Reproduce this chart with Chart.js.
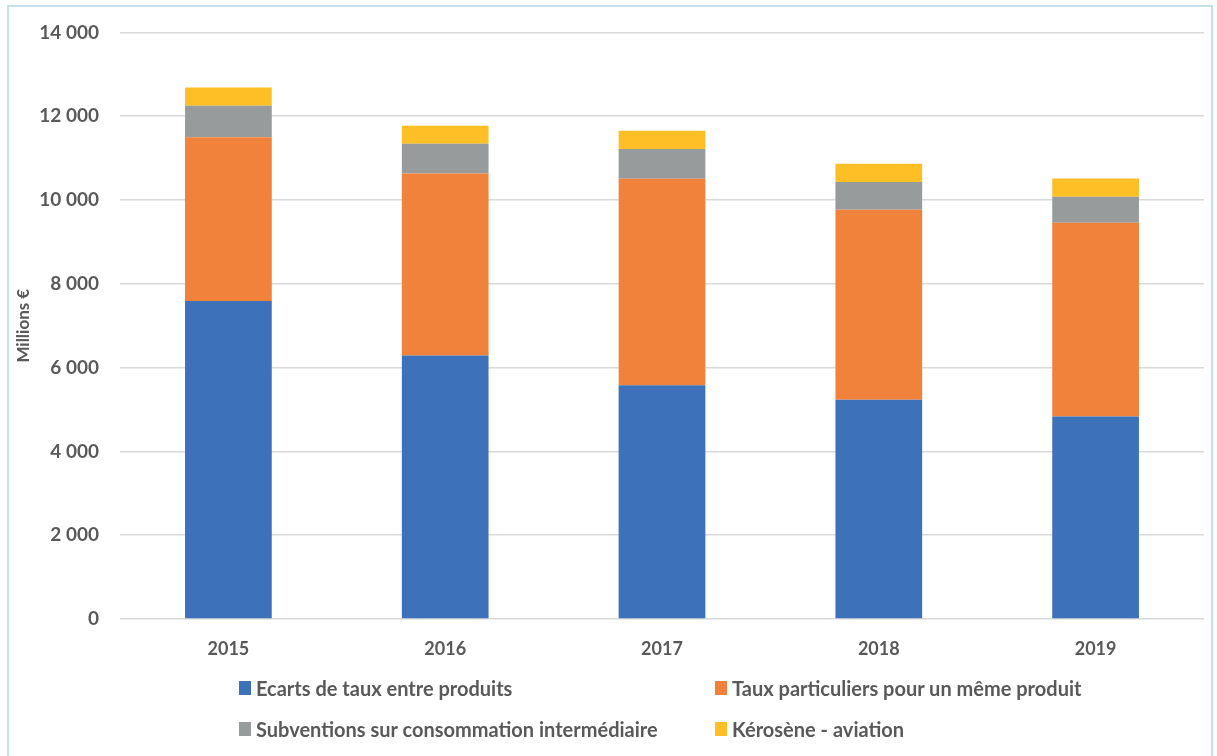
<!DOCTYPE html>
<html lang="fr">
<head>
<meta charset="utf-8">
<title>Dépenses fiscales énergie</title>
<script src="https://cdn.jsdelivr.net/npm/chart.js@4.4.1/dist/chart.umd.min.js"></script>
<style>
  html, body { margin: 0; padding: 0; background: #fff; }
  body { width: 1217px; height: 756px; position: relative; overflow: hidden; font-family: Lato, "Open Sans", sans-serif; }
  #frame { position: absolute; left: 7px; top: 5px; width: 1206px; height: 800px; border: 2px solid #c3e2eb; box-sizing: border-box; }
  #wrap { position: absolute; left: 0; top: 0; width: 1217px; height: 756px; }
  #legend { position: absolute; left: 239px; top: 676px; display: grid; grid-template-columns: 476px auto; row-gap: 17px; }
  .item { display: flex; align-items: center; font-weight: bold; font-size: 20px; color: #595959; height: 24px; white-space: nowrap; }
  .box { width: 12px; height: 14px; margin-right: 5px; }
</style>
</head>
<body>
<div id="frame"></div>
<div id="wrap"><canvas id="chart" width="1217" height="756"></canvas></div>
<div id="legend"></div>
<script>
  const years = ['2015', '2016', '2017', '2018', '2019'];
  const ecarts = [7590, 6290, 5580, 5230, 4830];
  const tauxParticuliers = [3910, 4345, 4925, 4535, 4625];
  const subventions = [750, 705, 715, 665, 620];
  const kerosene = [435, 430, 430, 435, 440];
  const yTicks = [0, 2000, 4000, 6000, 8000, 10000, 12000, 14000];

  const series = [
    { label: 'Ecarts de taux entre produits', data: ecarts, color: '#3d72ba' },
    { label: 'Taux particuliers pour un même produit', data: tauxParticuliers, color: '#f0823b' },
    { label: 'Subventions sur consommation intermédiaire', data: subventions, color: '#989b9b' },
    { label: 'Kérosène - aviation', data: kerosene, color: '#fdbe26' }
  ];

  const fmt = v => String(v).replace(/\B(?=(\d{3})+(?!\d))/g, ' ');
  const grey = '#595959';

  new Chart(document.getElementById('chart'), {
    type: 'bar',
    data: {
      labels: years,
      datasets: series.map(s => ({
        label: s.label,
        data: s.data,
        backgroundColor: s.color,
        borderWidth: 0,
        barPercentage: 0.4,
        categoryPercentage: 1
      }))
    },
    options: {
      responsive: false,
      animation: false,
      layout: { padding: { top: 30, right: 13, bottom: 0, left: 0 } },
      plugins: { legend: { display: false }, tooltip: { enabled: false } },
      scales: {
        x: {
          stacked: true,
          grid: { display: false, drawTicks: false },
          border: { display: false },
          ticks: { color: grey, padding: 19, font: { family: 'Lato', size: 18, weight: 'bold' } },
          afterFit: s => { s.height = 137; }
        },
        y: {
          stacked: true,
          min: 0,
          max: 14000,
          afterBuildTicks: s => { s.ticks = yTicks.map(v => ({ value: v })); },
          grid: { color: '#d9d9d9', lineWidth: 1.5, drawTicks: false },
          border: { display: false },
          ticks: {
            color: grey,
            padding: 21,
            font: { family: 'Lato', size: 19, weight: 'bold' },
            callback: v => fmt(v)
          },
          title: {
            display: true,
            text: 'Millions €',
            color: grey,
            padding: { top: 13, bottom: 0 },
            font: { family: 'Lato', size: 17, weight: 'bold' }
          },
          afterFit: s => { s.width = 120; }
        }
      }
    }
  });

  // legend laid out in two columns, like the original workbook
  const legend = document.getElementById('legend');
  series.forEach(s => {
    const item = document.createElement('div');
    item.className = 'item';
    item.innerHTML = `<span class="box" style="background:${s.color}"></span>${s.label}`;
    legend.appendChild(item);
  });
</script>
</body>
</html>
